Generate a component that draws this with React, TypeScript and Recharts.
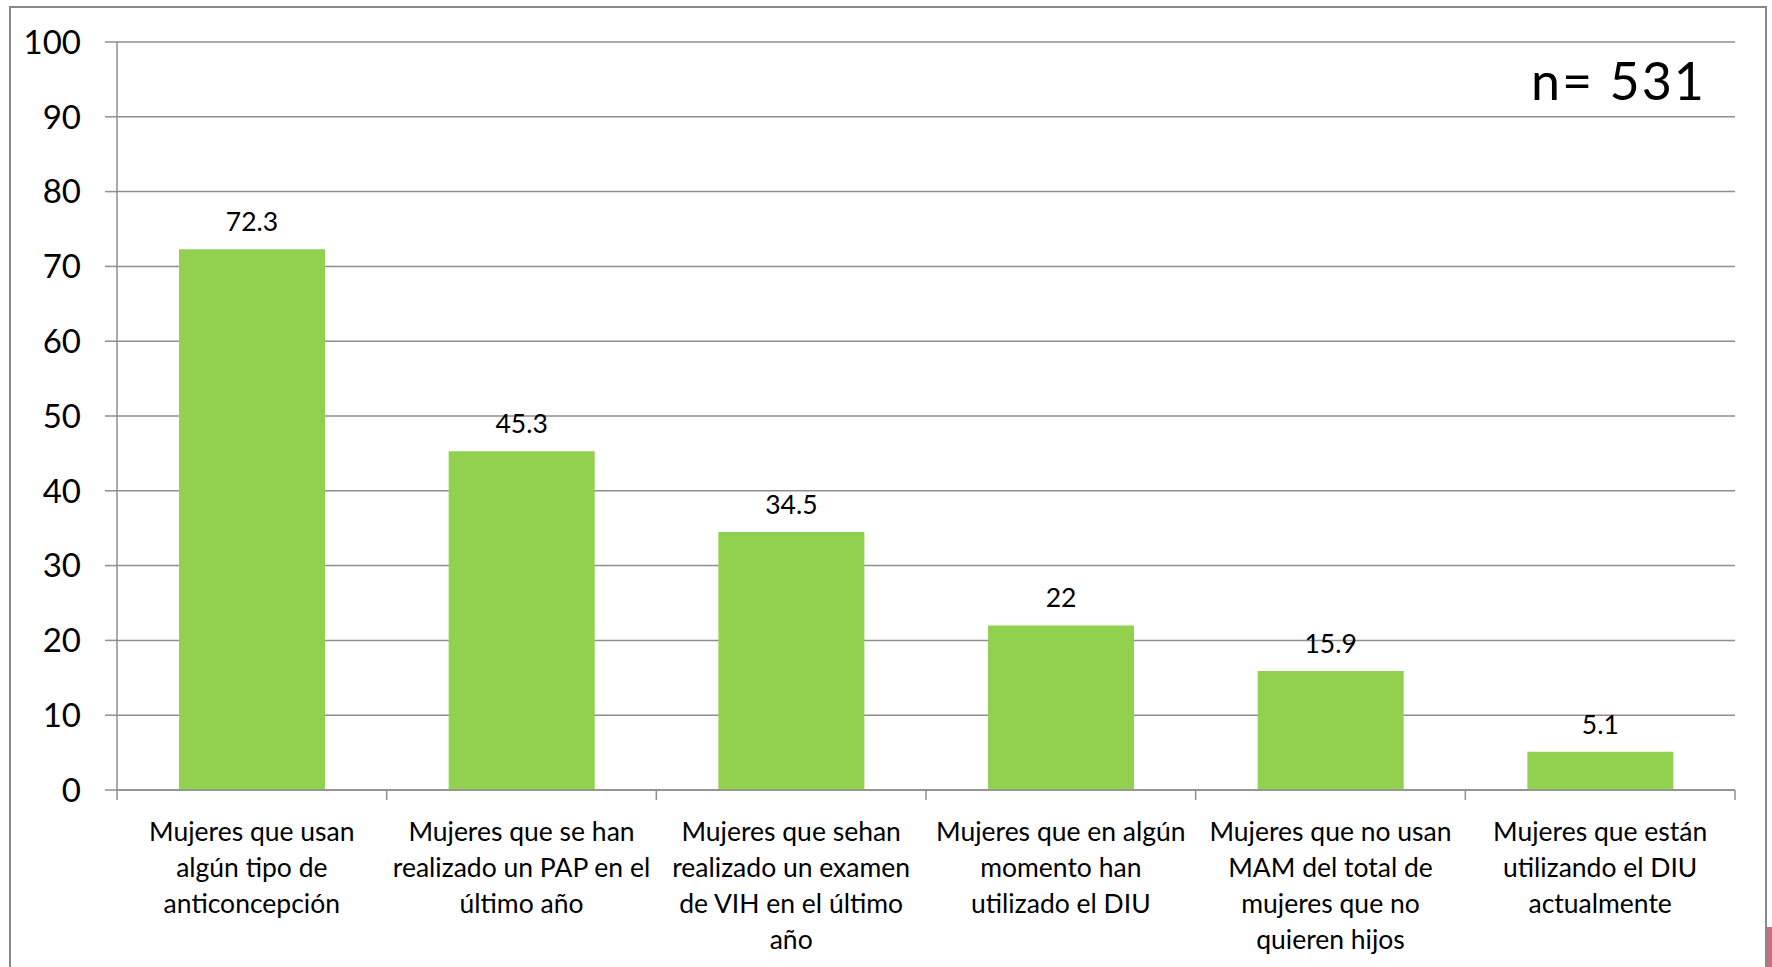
import { BarChart, Bar, XAxis, YAxis, CartesianGrid, LabelList } from 'recharts'

const categories = [
  'Mujeres que usan\nalgún tipo de\nanticoncepción',
  'Mujeres que se han\nrealizado un PAP en el\núltimo año',
  'Mujeres que sehan\nrealizado un examen\nde VIH en el último\naño',
  'Mujeres que en algún\nmomento han\nutilizado el DIU',
  'Mujeres que no usan\nMAM del total de\nmujeres que no\nquieren hijos',
  'Mujeres que están\nutilizando el DIU\nactualmente',
]
const values = [72.3, 45.3, 34.5, 22, 15.9, 5.1]
const yTicks = [0, 10, 20, 30, 40, 50, 60, 70, 80, 90, 100]
const sampleLabel = 'n= 531'

const data = categories.map((name, i) => ({ name, value: values[i] }))

const FONT = 'Lato, "Noto Sans", sans-serif'
const GRID = '#8e8e8e'

// category label, plus tick marks on the band edges (Excel style)
function CategoryTick(props: any) {
  const { x, y, payload, index, visibleTicksCount } = props
  const half = payload.offset ?? 0
  const lines = String(payload.value).split('\n')
  const last = index === visibleTicksCount - 1
  return (
    <g>
      <line x1={x - half} x2={x - half} y1={y} y2={y + 10} stroke={GRID} strokeWidth={1.5} />
      {last && <line x1={x + half} x2={x + half} y1={y} y2={y + 10} stroke={GRID} strokeWidth={1.5} />}
      <text x={x} y={y} textAnchor="middle" fontSize={26.5} fontFamily={FONT} fill="#000">
        {lines.map((line, i) => (
          <tspan key={i} x={x} dy={i === 0 ? 51 : 36}>
            {line}
          </tspan>
        ))}
      </text>
    </g>
  )
}

export default function App() {
  return (
    <div
      style={{
        position: 'fixed',
        left: 0,
        top: 0,
        width: 1772,
        height: 967,
        overflow: 'hidden',
        background: '#fff',
      }}
    >
      <div
        style={{
          position: 'absolute',
          left: 9,
          top: 6,
          width: 1754,
          height: 1000,
          border: '2px solid #888',
        }}
      />
      <div
        style={{
          position: 'absolute',
          left: 1767,
          top: 927,
          width: 6,
          height: 40,
          background: '#d4697c',
        }}
      />
      <div style={{ position: 'absolute', left: 0, top: 0 }}>
        <BarChart
          width={1772}
          height={967}
          data={data}
          margin={{ top: 42, right: 37, left: 17, bottom: 7 }}
          barCategoryGap="23%"
        >
          <CartesianGrid vertical={false} stroke={GRID} strokeWidth={1.5} />
          <XAxis
            dataKey="name"
            height={170}
            stroke={GRID}
            strokeWidth={1.5}
            tickLine={false}
            tickSize={0}
            tickMargin={0}
            interval={0}
            tick={<CategoryTick />}
          />
          <YAxis
            domain={[0, 100]}
            ticks={yTicks}
            width={100}
            tickSize={12}
            tickMargin={24}
            stroke={GRID}
            strokeWidth={1.5}
            tick={{ fontSize: 33, fill: '#000', fontFamily: FONT }}
          />
          <Bar dataKey="value" fill="#92d050" isAnimationActive={false}>
            <LabelList
              dataKey="value"
              position="top"
              offset={18}
              fill="#000"
              fontSize={26.5}
              fontFamily={FONT}
            />
          </Bar>
        </BarChart>
      </div>
      <div
        style={{
          position: 'absolute',
          right: 1772 - 1706,
          top: 44,
          fontFamily: FONT,
          fontSize: 52,
          lineHeight: '72px',
          letterSpacing: 2,
          color: '#000',
        }}
      >
        {sampleLabel}
      </div>
    </div>
  )
}
